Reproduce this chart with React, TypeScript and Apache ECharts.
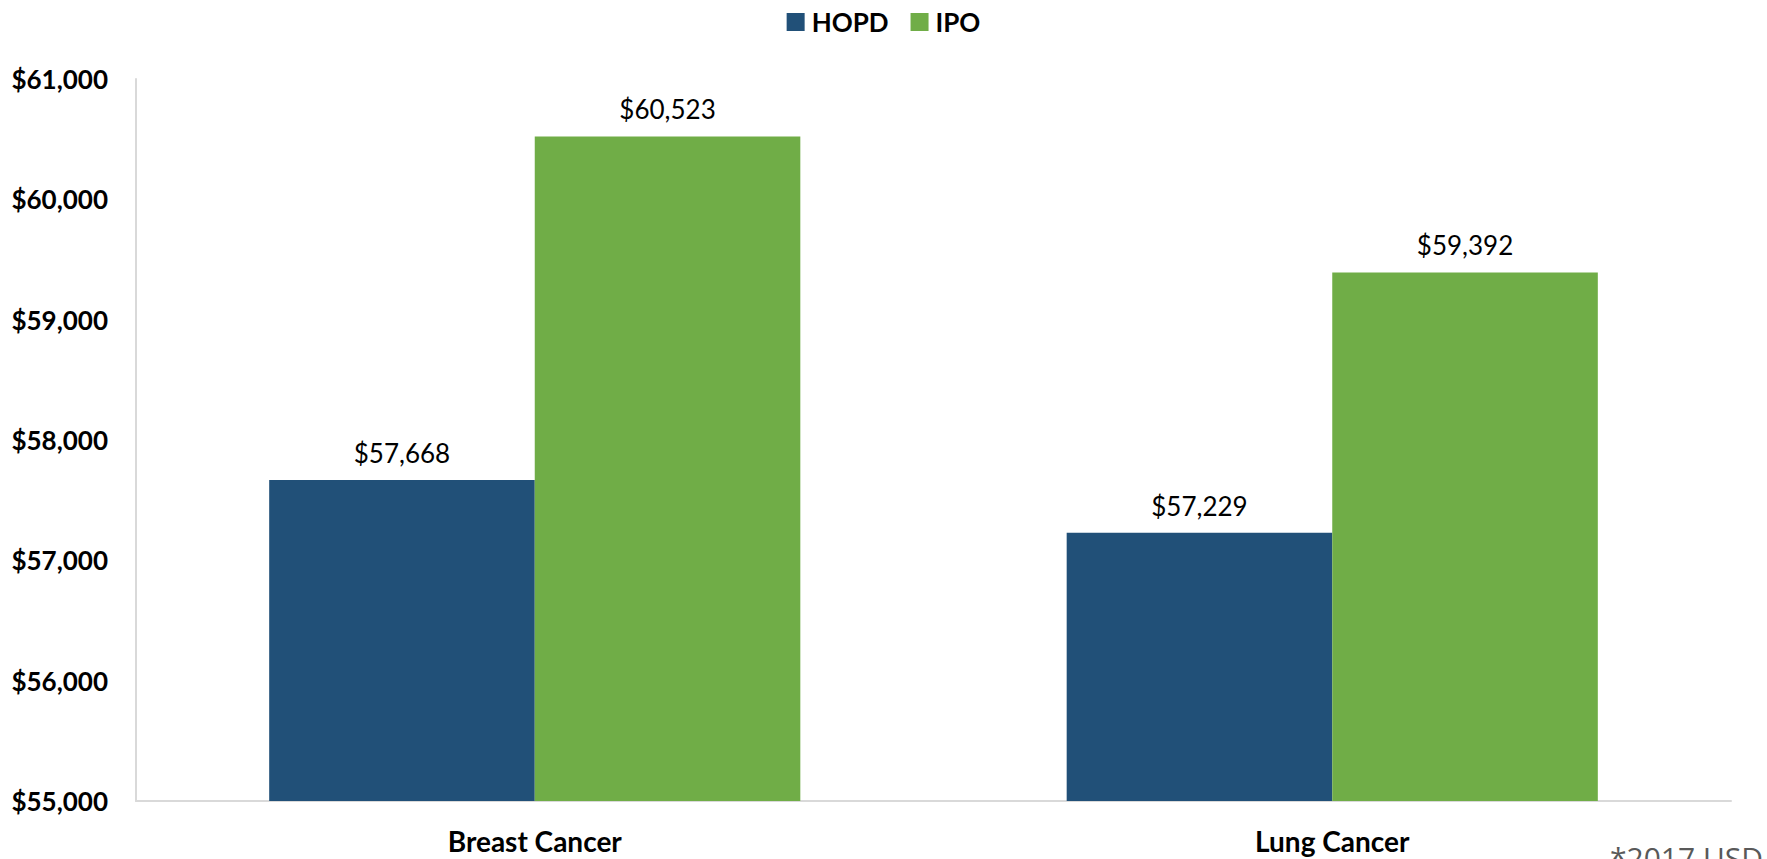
import React, { useEffect, useRef } from "react";
import * as echarts from "echarts";

const categories = ["Breast Cancer", "Lung Cancer"];
const hopdValues = [57668, 57229];
const ipoValues = [60523, 59392];
const seriesNames = ["HOPD", "IPO"];
const yTicks = { min: 55000, max: 61000, interval: 1000 };
const footnote = "*2017 USD";

const fmt = (v: number) => "$" + v.toLocaleString("en-US");

export default function App() {
  const ref = useRef<HTMLDivElement>(null);
  useEffect(() => {
    if (!ref.current) return;
    const chart = echarts.init(ref.current, undefined, { renderer: "svg" });
    const font = "Lato, 'Noto Sans', sans-serif";
    const labelStyle = {
      show: true,
      position: "top" as const,
      distance: 14,
      color: "#000",
      fontFamily: font,
      fontSize: 26,
      formatter: (p: any) => fmt(p.value),
    };
    chart.setOption({
      animation: false,
      backgroundColor: "#fff",
      legend: {
        top: 4,
        left: "center",
        itemWidth: 18,
        itemHeight: 18,
        itemGap: 22,
        icon: "rect",
        textStyle: { fontFamily: font, fontSize: 26, fontWeight: "bold", color: "#000", padding: [0, 0, 0, 2] },
        data: seriesNames,
      },
      grid: { left: 136, right: 36, top: 79, bottom: 58, containLabel: false },
      xAxis: {
        type: "category",
        data: categories,
        axisLine: { lineStyle: { color: "#d9d9d9", width: 2 } },
        axisTick: { show: false },
        axisLabel: { color: "#000", fontFamily: font, fontSize: 28, fontWeight: "bold", margin: 26 },
      },
      yAxis: {
        type: "value",
        min: yTicks.min,
        max: yTicks.max,
        interval: yTicks.interval,
        axisLine: { show: true, lineStyle: { color: "#d9d9d9", width: 2 } },
        axisTick: { show: false },
        splitLine: { show: false },
        axisLabel: {
          color: "#000",
          fontFamily: font,
          fontSize: 26,
          fontWeight: "bold",
          margin: 28,
          formatter: (v: number) => fmt(v),
        },
      },
      series: [
        {
          name: seriesNames[0],
          type: "bar",
          data: hopdValues,
          barGap: "0%",
          barCategoryGap: "33.4%",
          itemStyle: { color: "#215078" },
          label: labelStyle,
        },
        {
          name: seriesNames[1],
          type: "bar",
          data: ipoValues,
          barGap: "0%",
          barCategoryGap: "33.4%",
          itemStyle: { color: "#70ad47" },
          label: labelStyle,
        },
      ],
      graphic: [
        {
          type: "text",
          left: 1610,
          top: 842,
          style: { text: footnote, fontFamily: "'Open Sans', sans-serif", fontSize: 30, fill: "#595959" },
        },
      ],
    });
    return () => chart.dispose();
  }, []);
  return (
    <div
      ref={ref}
      style={{ position: "fixed", left: 0, top: 0, width: 1767, height: 859 }}
    />
  );
}
